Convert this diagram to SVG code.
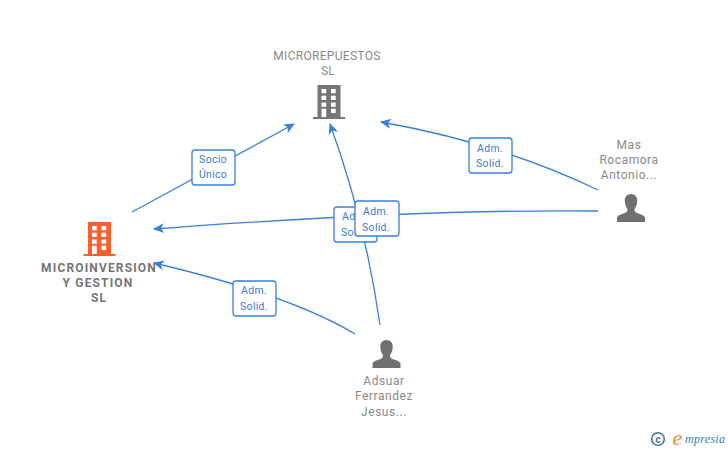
<svg xmlns="http://www.w3.org/2000/svg" width="728" height="450" viewBox="0 0 728 450">
<style>
text{font-family:Roboto,"Liberation Sans",sans-serif;text-anchor:middle}
.n{font-size:12px;fill:#8a8a8a;letter-spacing:.3px}
.m{font-size:12px;fill:#8a8a8a;letter-spacing:.55px}
.nb{font-size:12px;fill:#757575;font-weight:700;letter-spacing:1.15px}
.t{font-size:10.5px;fill:#3a7bd5;letter-spacing:.3px}
.c{fill:none;stroke:#3a7fdc;stroke-width:1.3;marker-end:url(#a)}
.b{fill:#fff;stroke:#3a7fdc;stroke-width:1.3}
.w{fill:#fff}
</style>
<defs>
<marker id="a" markerUnits="userSpaceOnUse" markerWidth="14" markerHeight="14" refX="10" refY="7" orient="auto"><path d="M0 2L11 7L0 12L3 7Z" fill="#3a7fdc"/></marker>
<g id="bld">
<path d="M-11.500 -17H11.500V15H16V17H-16V15H-11.500Z"/>
<g class="w">
<rect x="-7.500" y="-13" width="4.700" height="4.300"/><rect x="2" y="-13" width="4.700" height="4.300"/>
<rect x="-7.500" y="-6.300" width="4.700" height="4.300"/><rect x="2" y="-6.300" width="4.700" height="4.300"/>
<rect x="-7.500" y="0.500" width="4.700" height="4.300"/><rect x="2" y="0.500" width="4.700" height="4.300"/>
<rect x="-7.500" y="6.700" width="4.700" height="8.300"/><rect x="2" y="6.700" width="4.700" height="4.300"/>
</g>
</g>
<path id="usr" d="M0 -14C-5 -14 -6.500 -10 -6.200 -6.500C-6 -3.500 -5 -1 -3.500 1C-3.500 3 -4 4 -6 5C-9 6.200 -13 7 -14 9.500V14H14V9.500C13 7 9 6.200 6 5C4 4 3.500 3 3.500 1C5 -1 6 -3.500 6.200 -6.500C6.500 -10 5 -14 0 -14Z" fill="#707070"/>
</defs>
<rect width="728" height="450" fill="#fff"/>
<g id="connectors">
<path class="c" d="M132 212L294 124"/>
<path class="c" d="M598 190Q500 143 381 122"/>
<path class="c" d="M598 211Q420 209 154 229"/>
<path class="c" d="M380 325Q365 220 330 124"/>
<path class="c" d="M355 334Q290 295 154 263"/>
</g>
<g id="label-socio"><rect class="b" x="192" y="150" width="43" height="35" rx="3"/><text class="t" x="213" y="163">Socio</text><text class="t" x="213" y="178">Único</text></g>
<g id="label-mas-micro"><rect class="b" x="469" y="138" width="43" height="35" rx="3"/><text class="t" x="490" y="152">Adm.</text><text class="t" x="490" y="167">Solid.</text></g>
<g id="label-adsuar-micro"><rect class="b" x="334" y="207" width="43" height="35" rx="3"/><text class="t" x="355" y="220">Adm.</text><text class="t" x="355" y="236">Solid.</text></g>
<g id="label-mas-inv"><rect class="b" x="355" y="201" width="44" height="35" rx="3"/><text class="t" x="376" y="215">Adm.</text><text class="t" x="376" y="231">Solid.</text></g>
<g id="label-adsuar-inv"><rect class="b" x="233" y="281" width="43" height="35" rx="3"/><text class="t" x="254" y="294">Adm.</text><text class="t" x="254" y="310">Solid.</text></g>
<g id="node-microrepuestos"><text class="n" x="327" y="60">MICROREPUESTOS</text><text class="n" x="328" y="75">SL</text><use href="#bld" x="329" y="102" fill="#757575"/></g>
<g id="node-microinversion"><use href="#bld" x="99.500" y="239" fill="#ff5f2e"/><text class="nb" x="99" y="272">MICROINVERSION</text><text class="nb" x="98" y="287">Y GESTION</text><text class="nb" x="99" y="302">SL</text></g>
<g id="node-mas"><text class="m" x="629" y="149">Mas</text><text class="m" x="629" y="164">Rocamora</text><text class="m" x="629" y="179">Antonio...</text><use href="#usr" x="631" y="208"/></g>
<g id="node-adsuar"><use href="#usr" x="386.500" y="354"/><text class="m" x="384" y="385">Adsuar</text><text class="m" x="384" y="400">Ferrandez</text><text class="m" x="384" y="416">Jesus...</text></g>
<g id="logo"><circle cx="658" cy="439" r="6.300" fill="none" stroke="#44788c" stroke-width="1.600"/><text x="658" y="442.500" style="font-size:10px;font-weight:700;fill:#44788c">c</text><text x="677.500" y="445" style="font-size:22px;fill:#f08a1d;font-style:italic;font-family:'Liberation Serif',serif">e</text><text x="685" y="443" textLength="40" style="text-anchor:start;font-size:12px;fill:#2f7f96;font-style:italic;font-family:'Liberation Serif',serif">mpresia</text></g>
</svg>
